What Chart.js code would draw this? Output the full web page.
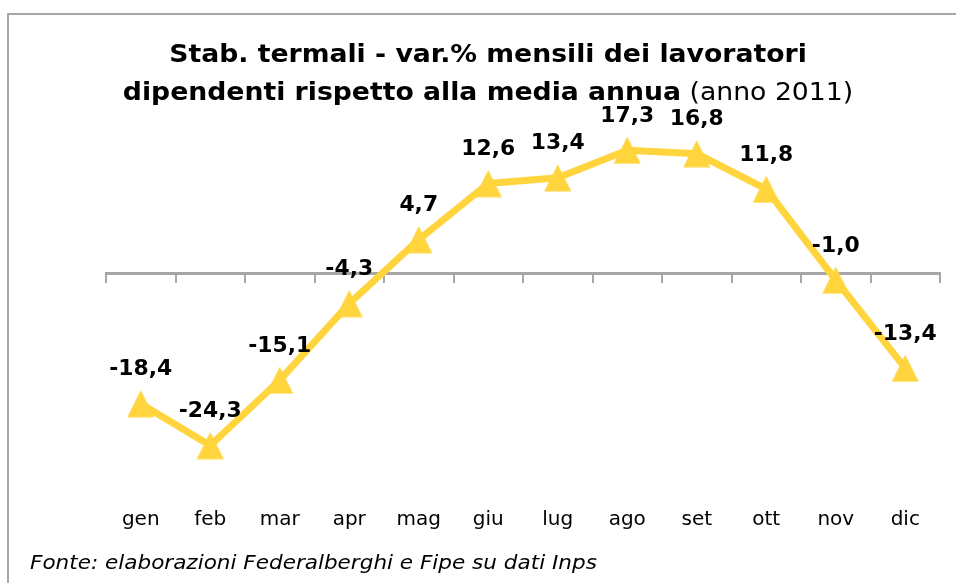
<!DOCTYPE html>
<html>
<head>
<meta charset="utf-8">
<script src="https://cdn.jsdelivr.net/npm/chart.js@4"></script>
<style>
  html, body { margin: 0; padding: 0; background: #fff; }
  #wrap { position: relative; width: 956px; height: 583px; overflow: hidden;
          font-family: "DejaVu Sans", Verdana, sans-serif; color: #000; }
  #frame { position: absolute; left: 7px; top: 13px; width: 1000px; height: 1000px;
           border: 2px solid #a6a6a6; box-sizing: border-box; }
  #title { position: absolute; left: 0; top: 35px; width: 976px; text-align: center;
           font-size: 25px; line-height: 38px; font-weight: normal;
           transform: scaleX(1.067); transform-origin: 488px 0; }
  #title b { font-weight: bold; }
  #source { position: absolute; left: 30px; top: 550px; font-size: 20px; font-style: italic;
            white-space: nowrap; transform: scaleX(1.077); transform-origin: 0 0; }
  canvas { position: absolute; left: 0; top: 0; }
</style>
</head>
<body>
<div id="wrap">
  <div id="frame"></div>
  <canvas id="chart" width="956" height="583"></canvas>
  <div id="title"><b>Stab. termali - var.% mensili dei lavoratori</b><br><b>dipendenti rispetto alla media annua</b> (anno 2011)</div>
  <div id="source">Fonte: elaborazioni Federalberghi e Fipe su dati Inps</div>
</div>
<script>
// Months of 2011 and the monthly % deviation of employees from the yearly average
const months = ['gen', 'feb', 'mar', 'apr', 'mag', 'giu', 'lug', 'ago', 'set', 'ott', 'nov', 'dic'];
const variazioni = [-18.4, -24.3, -15.1, -4.3, 4.7, 12.6, 13.4, 17.3, 16.8, 11.8, -1.0, -13.4];
const yMin = -30;
const yMax = 20;

const YELLOW = '#FFD43C';
const GRAY = '#a6a6a6';

// Triangle marker, centred on its bounding box
const tri = document.createElement('canvas');
tri.width = 28; tri.height = 28;
(function () {
  const c = tri.getContext('2d');
  c.fillStyle = YELLOW;
  c.beginPath();
  c.moveTo(14, 0.5);
  c.lineTo(27.5, 27.5);
  c.lineTo(0.5, 27.5);
  c.closePath();
  c.fill();
})();

const fmt = v => v.toFixed(1).replace('.', ',');

// Value labels above each marker
const valueLabels = {
  id: 'valueLabels',
  afterDatasetsDraw(chart) {
    const { ctx } = chart;
    const meta = chart.getDatasetMeta(0);
    ctx.font = 'bold 21px "DejaVu Sans"';
    ctx.fillStyle = '#000';
    ctx.textAlign = 'center';
    ctx.textBaseline = 'middle';
    meta.data.forEach((pt, i) => {
      ctx.save();
      ctx.translate(pt.x, pt.y - 34);
      ctx.scale(1.04, 1);
      ctx.fillText(fmt(variazioni[i]), 0, 0);
      ctx.restore();
    });
  }
};

// The horizontal axes keep no side padding of their own; the layout padding sets the plot width
const noSidePadding = scale => { scale.paddingLeft = 0; scale.paddingRight = 0; };

new Chart(document.getElementById('chart'), {
  type: 'line',
  data: {
    labels: months,
    datasets: [{
      data: variazioni,
      borderColor: YELLOW,
      backgroundColor: YELLOW,
      borderWidth: 7,
      borderJoinStyle: 'round',
      borderCapStyle: 'round',
      tension: 0,
      pointStyle: tri,
      pointRadius: 14,
      pointHoverRadius: 14,
      clip: false,
      xAxisID: 'x',
      yAxisID: 'y'
    }]
  },
  options: {
    responsive: false,
    animation: false,
    events: [],
    layout: { autoPadding: false, padding: { top: 131, left: 106, right: 16, bottom: 50 } },
    plugins: {
      legend: { display: false },
      title: { display: false },
      tooltip: { enabled: false }
    },
    scales: {
      x: {
        type: 'category',
        position: 'bottom',
        offset: true,
        grid: { display: false },
        border: { display: false },
        ticks: {
          color: '#000',
          padding: 14,
          maxRotation: 0,
          font: { family: '"DejaVu Sans"', size: 20 }
        },
        afterFit(scale) { scale.height = 47; noSidePadding(scale); }
      },
      x2: {
        type: 'category',
        axis: 'x',
        position: { y: 0 },
        offset: true,
        grid: {
          offset: true,
          drawOnChartArea: false,
          drawTicks: true,
          tickLength: 8,
          color: GRAY,
          lineWidth: 2
        },
        border: { display: true, color: GRAY, width: 3 },
        ticks: { display: false },
        afterFit: noSidePadding
      },
      y: {
        display: false,
        min: yMin,
        max: yMax
      }
    }
  },
  plugins: [valueLabels]
});
</script>
</body>
</html>
